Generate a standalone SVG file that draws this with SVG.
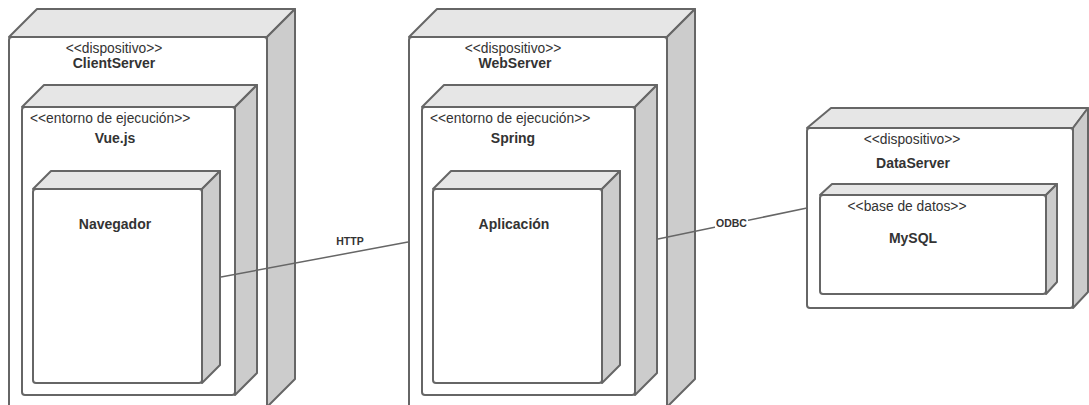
<svg xmlns="http://www.w3.org/2000/svg" width="1089" height="405" viewBox="0 0 1089 405">
<style>
.front{fill:#ffffff;stroke:#666666;stroke-width:2}
.top{fill:#e6e6e6;stroke:#666666;stroke-width:2;stroke-linejoin:round}
.side{fill:#cccccc;stroke:#666666;stroke-width:2;stroke-linejoin:round}
.st{font-family:"Liberation Sans",Arial,sans-serif;font-size:13.8px;fill:#333333}
.nm{font-family:"Liberation Sans",Arial,sans-serif;font-size:14px;font-weight:bold;fill:#333333}
.lbl{font-family:"Liberation Sans",Arial,sans-serif;font-size:10.5px;font-weight:bold;fill:#333333}
.conn{stroke:#666666;stroke-width:1.5;fill:none}
</style>
<rect width="1089" height="405" fill="#ffffff"/>
<g id="ClientServer">
<rect class="front" x="9" y="37" width="258" height="372" rx="3"/>
<path class="top" d="M9,37 L37,9 L295,9 L267,37 Z"/>
<path class="side" d="M267,37 L295,9 L295,379 L267,407 Z"/>
<text class="st" x="114" y="53" text-anchor="middle">&lt;&lt;dispositivo&gt;&gt;</text>
<text class="nm" x="114" y="68" text-anchor="middle">ClientServer</text>
</g>
<g id="VueJs">
<rect class="front" x="22" y="107" width="213" height="288" rx="3"/>
<path class="top" d="M22,107 L44,85 L257,85 L235,107 Z"/>
<path class="side" d="M235,107 L257,85 L257,373 L235,395 Z"/>
<text class="st" x="30" y="123">&lt;&lt;entorno de ejecución&gt;&gt;</text>
<text class="nm" x="115" y="143" text-anchor="middle">Vue.js</text>
</g>
<g id="Navegador">
<rect class="front" x="33" y="189" width="169" height="194" rx="3"/>
<path class="top" d="M33,189 L51,171 L220,171 L202,189 Z"/>
<path class="side" d="M202,189 L220,171 L220,365 L202,383 Z"/>
<text class="nm" x="115" y="229" text-anchor="middle">Navegador</text>
</g>
<g id="WebServer">
<rect class="front" x="409" y="37" width="258" height="372" rx="3"/>
<path class="top" d="M409,37 L437,9 L695,9 L667,37 Z"/>
<path class="side" d="M667,37 L695,9 L695,379 L667,407 Z"/>
<text class="st" x="513" y="53" text-anchor="middle">&lt;&lt;dispositivo&gt;&gt;</text>
<text class="nm" x="515" y="68" text-anchor="middle">WebServer</text>
</g>
<g id="Spring">
<rect class="front" x="422" y="107" width="213" height="288" rx="3"/>
<path class="top" d="M422,107 L444,85 L657,85 L635,107 Z"/>
<path class="side" d="M635,107 L657,85 L657,373 L635,395 Z"/>
<text class="st" x="430" y="123">&lt;&lt;entorno de ejecución&gt;&gt;</text>
<text class="nm" x="513" y="143" text-anchor="middle">Spring</text>
</g>
<g id="Aplicacion">
<rect class="front" x="433" y="189" width="169" height="194" rx="3"/>
<path class="top" d="M433,189 L451,171 L620,171 L602,189 Z"/>
<path class="side" d="M602,189 L620,171 L620,365 L602,383 Z"/>
<text class="nm" x="514" y="229" text-anchor="middle">Aplicación</text>
</g>
<g id="DataServer">
<rect class="front" x="807" y="128" width="266" height="180" rx="3"/>
<path class="top" d="M807,128 L831,108 L1088,108 L1073,128 Z"/>
<path class="side" d="M1073,128 L1088,108 L1088,292 L1073,308 Z"/>
<text class="st" x="912" y="144" text-anchor="middle">&lt;&lt;dispositivo&gt;&gt;</text>
<text class="nm" x="913" y="168" text-anchor="middle">DataServer</text>
</g>
<g id="MySQL">
<rect class="front" x="820" y="195" width="226" height="99" rx="3"/>
<path class="top" d="M820,195 L832,184 L1057,184 L1046,195 Z"/>
<path class="side" d="M1046,195 L1057,184 L1057,282 L1046,294 Z"/>
<text class="st" x="907" y="211" text-anchor="middle">&lt;&lt;base de datos&gt;&gt;</text>
<text class="nm" x="913" y="243" text-anchor="middle">MySQL</text>
</g>
<g id="connectors">
<line class="conn" x1="221" y1="277" x2="408" y2="242"/>
<text class="lbl" x="350" y="245" text-anchor="middle">HTTP</text>
<line class="conn" x1="658" y1="239" x2="807" y2="208"/>
<rect x="715" y="216" width="33" height="13" fill="#ffffff"/>
<text class="lbl" x="731.5" y="227" text-anchor="middle">ODBC</text>
</g>
</svg>
